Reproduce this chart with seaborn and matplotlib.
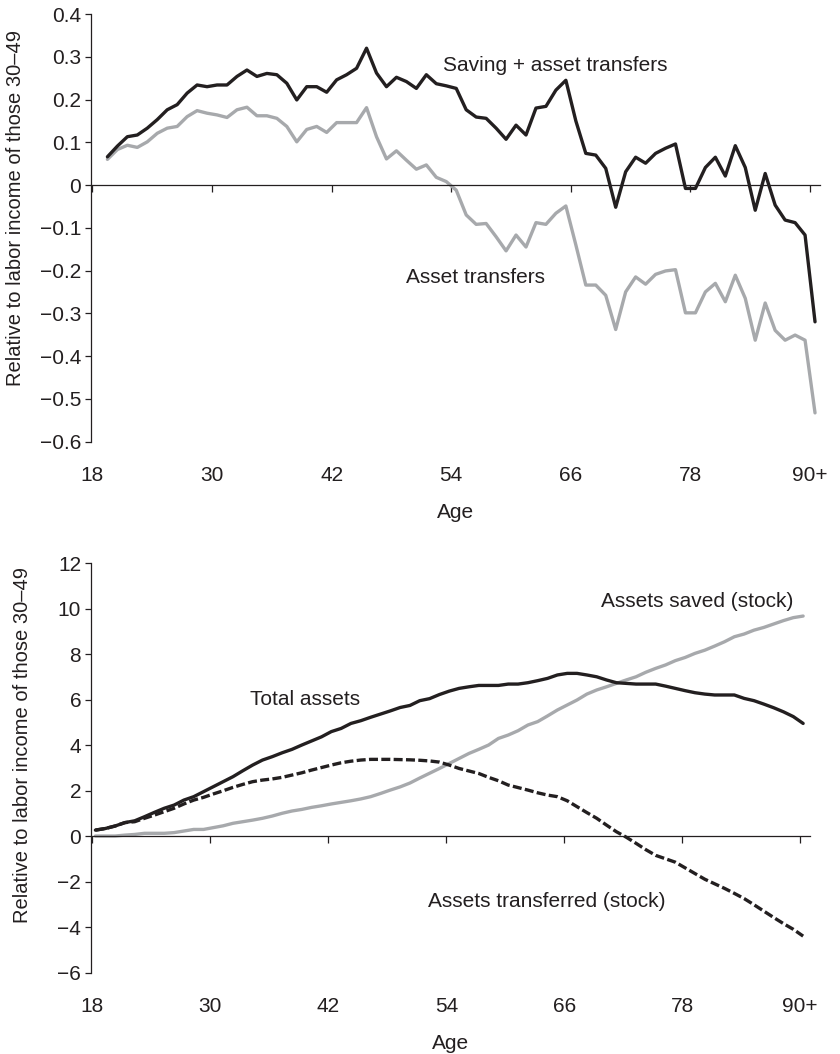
import numpy as np
import matplotlib
matplotlib.use("Agg")
import matplotlib.pyplot as plt
import seaborn as sns

# --- data ---
# top panel: flows by age (mid-year points 19..90+)
ages_flow = np.arange(19, 91)
saving_plus_transfers = [
    0.066, 0.091, 0.113, 0.117, 0.133, 0.153, 0.176, 0.188, 0.215, 0.234,
    0.230, 0.234, 0.234, 0.254, 0.269, 0.254, 0.261, 0.258, 0.238, 0.199,
    0.230, 0.230, 0.217, 0.246, 0.258, 0.273, 0.320, 0.262, 0.230, 0.252,
    0.242, 0.226, 0.258, 0.237, 0.232, 0.226, 0.176, 0.159, 0.156, 0.133,
    0.107, 0.140, 0.117, 0.180, 0.184, 0.222, 0.245, 0.150, 0.074, 0.070,
    0.039, -0.052, 0.031, 0.065, 0.051, 0.074, 0.086, 0.096, -0.008, -0.008,
    0.041, 0.065, 0.021, 0.092, 0.041, -0.059, 0.027, -0.047, -0.082, -0.088,
    -0.117, -0.320,
]
asset_transfers = [
    0.060, 0.083, 0.093, 0.088, 0.101, 0.121, 0.133, 0.137, 0.160, 0.174,
    0.168, 0.164, 0.158, 0.176, 0.182, 0.162, 0.162, 0.156, 0.137, 0.101,
    0.130, 0.137, 0.123, 0.146, 0.146, 0.146, 0.181, 0.113, 0.061, 0.080,
    0.058, 0.037, 0.047, 0.018, 0.008, -0.012, -0.070, -0.092, -0.090, -0.121,
    -0.154, -0.117, -0.145, -0.088, -0.092, -0.066, -0.049, -0.140, -0.234, -0.234,
    -0.258, -0.338, -0.250, -0.215, -0.232, -0.209, -0.201, -0.198, -0.299, -0.299,
    -0.250, -0.230, -0.273, -0.211, -0.265, -0.363, -0.276, -0.340, -0.363, -0.351,
    -0.363, -0.533,
]

# bottom panel: stocks by age 18..90+
ages_stock = np.arange(18, 91)
total_assets = [
    0.26, 0.33, 0.44, 0.59, 0.67, 0.85, 1.04, 1.22, 1.36, 1.58,
    1.73, 1.95, 2.17, 2.39, 2.61, 2.87, 3.12, 3.34, 3.49, 3.66,
    3.81, 4.00, 4.18, 4.36, 4.59, 4.73, 4.95, 5.07, 5.22, 5.36,
    5.50, 5.65, 5.74, 5.95, 6.04, 6.22, 6.37, 6.49, 6.56, 6.62,
    6.62, 6.62, 6.68, 6.68, 6.74, 6.83, 6.93, 7.08, 7.15, 7.15,
    7.08, 7.00, 6.86, 6.74, 6.71, 6.68, 6.68, 6.68, 6.59, 6.49,
    6.39, 6.30, 6.24, 6.20, 6.20, 6.20, 6.05, 5.95, 5.80, 5.64,
    5.46, 5.25, 4.95,
]
assets_saved = [
    0.00, 0.00, 0.00, 0.04, 0.07, 0.12, 0.12, 0.12, 0.15, 0.22,
    0.29, 0.29, 0.37, 0.45, 0.56, 0.63, 0.70, 0.78, 0.88, 1.00,
    1.10, 1.17, 1.26, 1.33, 1.41, 1.48, 1.55, 1.63, 1.73, 1.87,
    2.02, 2.16, 2.33, 2.55, 2.76, 2.97, 3.19, 3.41, 3.63, 3.81,
    4.00, 4.29, 4.44, 4.63, 4.88, 5.03, 5.28, 5.54, 5.76, 5.98,
    6.24, 6.42, 6.56, 6.71, 6.86, 7.00, 7.20, 7.37, 7.52, 7.71,
    7.85, 8.03, 8.17, 8.35, 8.54, 8.76, 8.88, 9.05, 9.17, 9.32,
    9.47, 9.60, 9.67,
]
assets_transferred = [
    0.26, 0.33, 0.44, 0.59, 0.63, 0.78, 0.92, 1.07, 1.22, 1.41,
    1.58, 1.70, 1.85, 1.99, 2.14, 2.27, 2.39, 2.46, 2.51, 2.58,
    2.68, 2.78, 2.90, 3.01, 3.12, 3.22, 3.29, 3.34, 3.37, 3.37,
    3.37, 3.36, 3.35, 3.33, 3.30, 3.25, 3.12, 2.97, 2.86, 2.75,
    2.58, 2.43, 2.24, 2.13, 2.02, 1.90, 1.80, 1.73, 1.55, 1.29,
    1.03, 0.78, 0.48, 0.19, -0.05, -0.32, -0.60, -0.85, -1.00, -1.15,
    -1.40, -1.65, -1.90, -2.10, -2.30, -2.52, -2.75, -3.02, -3.30, -3.58,
    -3.85, -4.10, -4.40,
]

age_ticks = [18, 30, 42, 54, 66, 78, 90]
age_labels = ["18", "30", "42", "54", "66", "78", "90+"]
top_yticks = [0.4, 0.3, 0.2, 0.1, 0, -0.1, -0.2, -0.3, -0.4, -0.5, -0.6]
bottom_yticks = [12, 10, 8, 6, 4, 2, 0, -2, -4, -6]
ylabel_text = "Relative to labor income of those 30\u201349"

BLACK = "#231f20"
GRAY = "#a7a9ac"
FS = 15

sns.set_theme(style="white")
plt.rcParams["font.family"] = ["Liberation Sans", "DejaVu Sans"]
plt.rcParams["text.color"] = BLACK
plt.rcParams["axes.labelcolor"] = BLACK
plt.rcParams["xtick.color"] = BLACK
plt.rcParams["ytick.color"] = BLACK
plt.rcParams["axes.edgecolor"] = BLACK


def fmt(v):
    return f"{v:g}".replace("-", "\u2212")


def style_axes(ax, yticks, label_xy):
    ax.set_xlim(17.85, 91)
    ax.set_ylim(min(yticks), max(yticks))
    sns.despine(ax=ax)
    ax.spines["bottom"].set_position(("data", 0))
    ax.spines["bottom"].set_linewidth(0.9)
    ax.spines["left"].set_linewidth(0.9)
    ax.set_yticks(yticks, labels=[fmt(v) for v in yticks])
    ax.tick_params(axis="y", left=True, direction="out", length=4, width=0.9,
                   labelsize=FS, pad=3)
    ax.set_xticks(age_ticks)
    ax.tick_params(axis="x", bottom=True, direction="out", length=5, width=0.9,
                   labelbottom=False)
    # tick labels sit under the plot area, not on the zero line
    sec = ax.secondary_xaxis("bottom")
    sec.set_xticks(age_ticks, labels=age_labels)
    sec.tick_params(length=0, pad=17.5, labelsize=FS)
    sec.spines["bottom"].set_visible(False)
    sec.set_xlabel("Age", fontsize=FS, labelpad=13)
    ax.set_xlabel("")
    ax.set_ylabel(ylabel_text, fontsize=14.5)
    ax.yaxis.set_label_coords(*label_xy)


fig = plt.figure(figsize=(8.4, 10.54), dpi=100)
ax1 = fig.add_axes([0.1083, 0.5811, 0.8679, 0.4056])
ax2 = fig.add_axes([0.1083, 0.0773, 0.8560, 0.3885])

# top panel
sns.lineplot(x=ages_flow + 0.5, y=asset_transfers, ax=ax1, color=GRAY, lw=2.4)
sns.lineplot(x=ages_flow + 0.5, y=saving_plus_transfers, ax=ax1, color=BLACK, lw=2.4)
style_axes(ax1, top_yticks, (-0.0905, 0.547))
ax1.text(53.2, 0.279, "Saving + asset transfers", fontsize=FS, va="center")
ax1.text(49.5, -0.216, "Asset transfers", fontsize=FS, va="center")

# bottom panel
sns.lineplot(x=ages_stock + 0.3, y=assets_saved, ax=ax2, color=GRAY, lw=2.4)
sns.lineplot(x=ages_stock + 0.3, y=assets_transferred, ax=ax2, color=BLACK, lw=2.4,
             linestyle=(0, (2.7, 1.0)))
sns.lineplot(x=ages_stock + 0.3, y=total_assets, ax=ax2, color=BLACK, lw=2.4)
style_axes(ax2, bottom_yticks, (-0.082, 0.556))
ax2.text(69.75, 10.3, "Assets saved (stock)", fontsize=FS, va="center")
ax2.text(34.0, 5.98, "Total assets", fontsize=FS, va="center")
ax2.text(52.1, -2.89, "Assets transferred (stock)", fontsize=FS, va="center")

fig.savefig("out.png", dpi=100)
